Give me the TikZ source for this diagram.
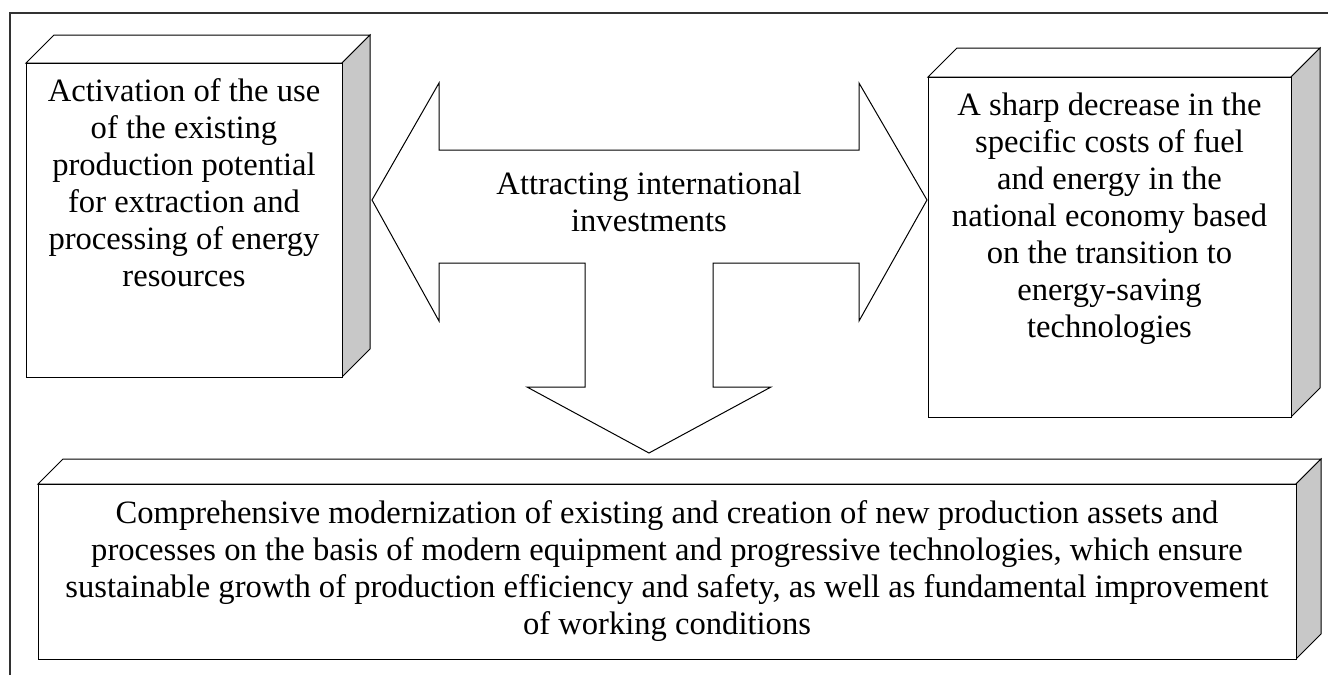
\documentclass[tikz,border=0pt]{standalone}
\usepackage{fontspec}
\setmainfont{Liberation Serif}
\definecolor{sidegray}{RGB}{200,200,200}
\definecolor{framegray}{RGB}{50,50,50}
\tikzset{
  face/.style={draw=black, line width=1pt, fill=white, line join=miter},
  side/.style={draw=black, line width=1pt, fill=sidegray, line join=miter},
  arrowshape/.style={draw=black, line width=1pt, fill=white, line join=miter},
  txt/.style={font=\fontsize{32.6}{37}\selectfont, align=center, inner sep=0pt, anchor=north},
  framestyle/.style={draw=framegray, line width=1.6pt}
}
\newcommand\drawcuboid[5]{%
  \draw[face] (#1,#2) -- (#1+#5,#2-#5) -- (#3+#5,#2-#5) -- (#3,#2) -- cycle;
  \draw[side] (#3,#2) -- (#3+#5,#2-#5) -- (#3+#5,#4-#5) -- (#3,#4) -- cycle;
  \draw[face] (#1,#2) rectangle (#3,#4);
}
\begin{document}
\begin{tikzpicture}[x=1pt, y=-1pt]
\useasboundingbox (0,0) rectangle (1328,675);
% outer frame (top and left edges)
\coordinate (fbl) at (10,675);
\coordinate (ftl) at (10,13);
\coordinate (ftr) at (1328,13);
\draw[framestyle] (fbl) -- (ftl) -- (ftr);
% boxes
\drawcuboid{26}{63}{342}{377}{28}
\drawcuboid{928}{77}{1291}{417}{29}
\drawcuboid{38}{484}{1296}{659}{25}
% three-way arrow
\draw[arrowshape] (372,200) -- (439,83) -- (439,150) -- (859,150) -- (859,83)
  -- (927,200) -- (859,321) -- (859,263) -- (713,263) -- (713,387) -- (771,387)
  -- (649,453) -- (527,387) -- (585,387) -- (585,263) -- (439,263) -- (439,321) -- cycle;
% texts
\node[txt] (lefttxt) at (184,78) {Activation of the use\\of the existing\\production potential\\for extraction and\\processing of energy\\resources};
\node[txt] (righttxt) at (1109.5,92.7) {A sharp decrease in the\\specific costs of fuel\\and energy in the\\national economy based\\on the transition to\\energy-saving\\technologies};
\node[txt] (centertxt) at (649,172) {Attracting international\\investments};
\node[txt] (bottomtxt) at (667,500.7) {Comprehensive modernization of existing and creation of new production assets and\\processes on the basis of modern equipment and progressive technologies, which ensure\\sustainable growth of production efficiency and safety, as well as fundamental improvement\\of working conditions};
\end{tikzpicture}
\end{document}
